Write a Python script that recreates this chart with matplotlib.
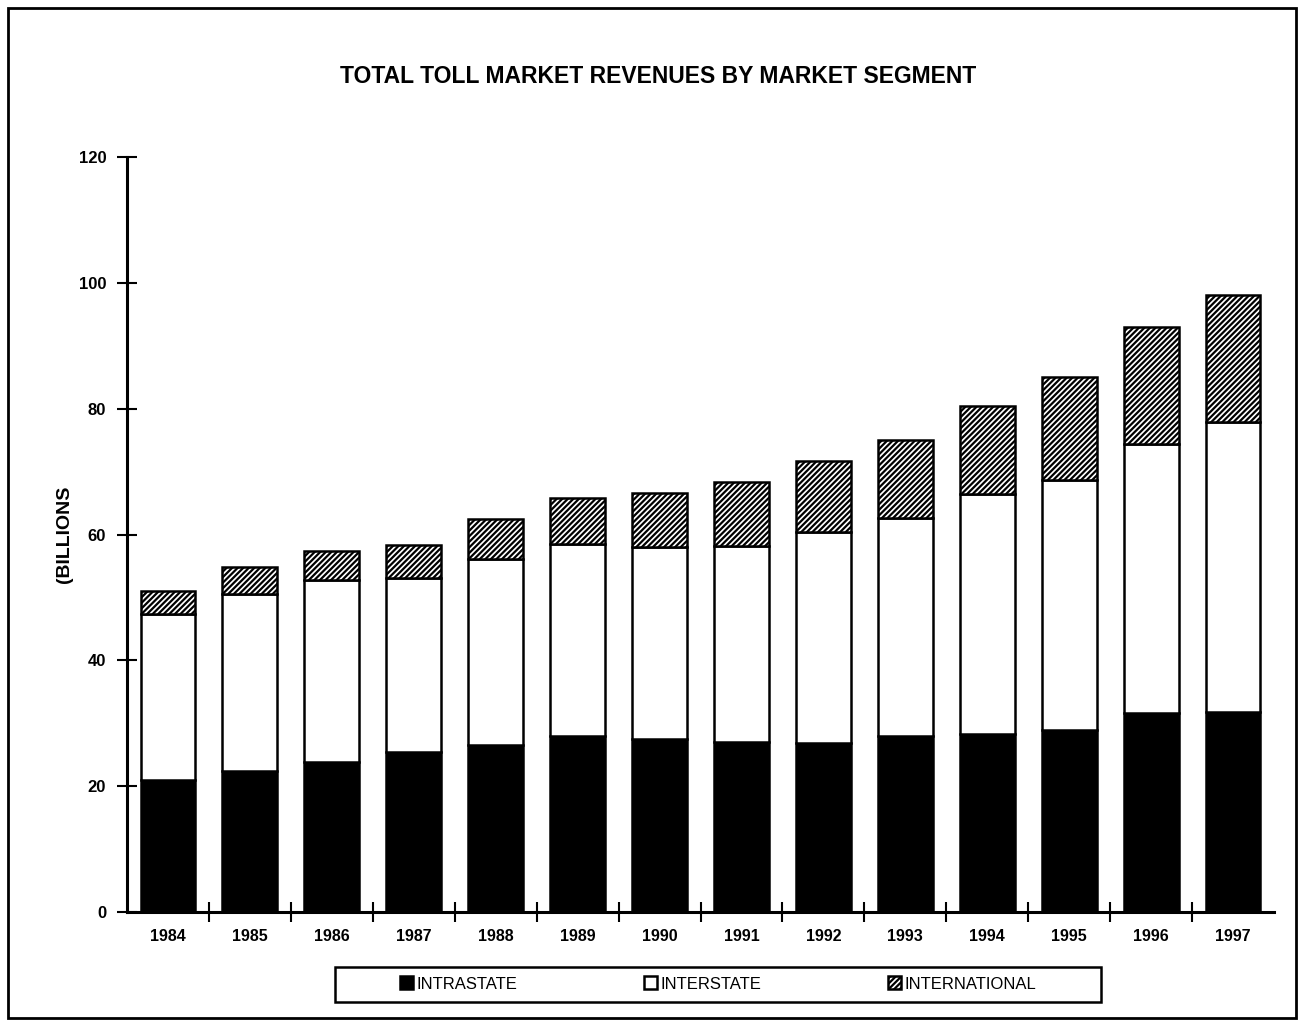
import matplotlib
matplotlib.use("Agg")
from matplotlib import pyplot as plt
from matplotlib.patches import Rectangle
import numpy as np

plt.rcParams['font.family'] = ['Liberation Sans', 'DejaVu Sans']
plt.rcParams['hatch.linewidth'] = 1.6

years = ['1984', '1985', '1986', '1987', '1988', '1989', '1990',
         '1991', '1992', '1993', '1994', '1995', '1996', '1997']
intrastate = [21.0, 22.4, 23.8, 25.4, 26.5, 28.0, 27.5, 27.0, 26.9, 28.0, 28.3, 28.9, 31.6, 31.8]
interstate = [26.4, 28.2, 29.0, 27.7, 29.6, 30.5, 30.5, 31.2, 33.5, 34.6, 38.2, 39.8, 42.8, 46.1]
international = [3.6, 4.2, 4.6, 5.2, 6.4, 7.3, 8.6, 10.2, 11.3, 12.4, 13.9, 16.4, 18.6, 20.2]

x = np.arange(len(years))
fig = plt.figure(figsize=(13.04, 10.22), dpi=100)
ax = fig.add_axes([0.0974, 0.1076, 0.8796, 0.7388])

w = 0.67
b1 = np.array(intrastate)
b2 = b1 + np.array(interstate)
ax.bar(x, intrastate, w, color='black', edgecolor='black', linewidth=1.8, label='INTRASTATE')
ax.bar(x, interstate, w, bottom=b1, color='white', edgecolor='black', linewidth=1.8, label='INTERSTATE')
ax.bar(x, international, w, bottom=b2, color='white', edgecolor='black', hatch='//////',
       linewidth=1.8, label='INTERNATIONAL')

ax.set_xlim(-0.5, len(years) - 0.5)
ax.set_ylim(0, 120)
ax.set_yticks(range(0, 121, 20))
ax.set_xticks(x)
ax.set_xticklabels(years, fontsize=11.5, fontweight='bold')
ax.tick_params(axis='x', length=0, pad=12)
ax.set_xticks(np.arange(0.5, len(years) - 0.5, 1), minor=True)
ax.tick_params(axis='x', which='minor', direction='inout', length=14, width=1.5)
ax.tick_params(axis='y', direction='inout', length=14, width=1.5, labelsize=12, pad=8)
for lbl in ax.get_yticklabels():
    lbl.set_fontweight('bold')
ax.spines['top'].set_visible(False)
ax.spines['right'].set_visible(False)
ax.spines['left'].set_linewidth(2.2)
ax.spines['bottom'].set_linewidth(2.2)
ax.set_ylabel('(BILLIONS', fontsize=14, fontweight='bold')
ax.yaxis.set_label_coords(-0.047, 0.50)

fig.text(0.505, 0.925, 'TOTAL TOLL MARKET REVENUES BY MARKET SEGMENT',
         ha='center', va='center', fontsize=16.5, fontweight='bold')

# legend without frame, box drawn separately
leg = fig.legend(loc='center', ncol=3, bbox_to_anchor=(718 / 1304, 1 - 984 / 1022),
                 frameon=False, prop={'size': 12}, handlelength=0.8, handleheight=0.8,
                 handletextpad=0.2, columnspacing=7.6, borderaxespad=0, borderpad=0)
fig.patches.append(Rectangle((335 / 1304, 1 - 1002 / 1022), 766 / 1304, 35 / 1022,
                             transform=fig.transFigure, fill=False, edgecolor='black',
                             linewidth=1.8))

fig.patches.append(Rectangle((0.006, 0.004), 0.988, 0.988, transform=fig.transFigure,
                             fill=False, edgecolor='black', linewidth=2))

fig.savefig('out.png', dpi=100)
